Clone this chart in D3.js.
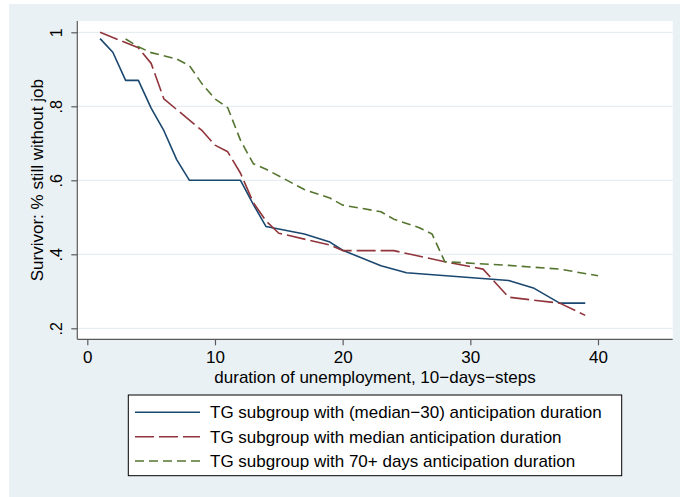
<!DOCTYPE html>
<html>
<head>
<meta charset="utf-8">
<script src="https://cdn.jsdelivr.net/npm/d3@7"></script>
<style>
  body { margin: 0; background: #ffffff; }
  svg { display: block; }
  text { font-family: Arial, "Liberation Sans", Helvetica, sans-serif; fill: #000; }
</style>
</head>
<body>
<svg id="chart" width="680" height="497"></svg>
<script>
// Kaplan-Meier style survivor curves, unemployment duration in 10-day steps
const seriesNames = [
  "TG subgroup with (median\u221230) anticipation duration",
  "TG subgroup with median anticipation duration",
  "TG subgroup with 70+ days anticipation duration"
];

const durMinus30  = [1, 2, 3, 4, 5, 6, 7, 8, 12, 13, 14, 17, 19, 20, 23, 25, 33, 35, 37, 39];
const survMinus30 = [0.983, 0.946, 0.870, 0.870, 0.795, 0.734, 0.656, 0.600, 0.600, 0.535, 0.475, 0.455, 0.433, 0.411, 0.369, 0.350, 0.329, 0.308, 0.268, 0.268];

const durMedian  = [1, 4, 5, 6, 9, 10, 11, 12, 13, 14, 15, 19, 20, 24, 28, 31, 33, 37, 39];
const survMedian = [1.000, 0.958, 0.916, 0.820, 0.734, 0.695, 0.677, 0.619, 0.540, 0.490, 0.457, 0.425, 0.410, 0.410, 0.380, 0.360, 0.284, 0.268, 0.235];

const dur70  = [3, 4, 5, 7, 8, 9, 10, 11, 12, 13, 14, 17, 19, 20, 23, 24, 26, 27, 28, 33, 37, 40];
const surv70 = [0.982, 0.961, 0.945, 0.928, 0.910, 0.860, 0.820, 0.796, 0.708, 0.645, 0.630, 0.575, 0.552, 0.533, 0.515, 0.495, 0.472, 0.455, 0.380, 0.370, 0.360, 0.342];

const xTickValues = [0, 10, 20, 30, 40];
const yTickValues = [0.2, 0.4, 0.6, 0.8, 1];
const yTickLabels = [".2", ".4", ".6", ".8", "1"];

const xTitle = "duration of unemployment, 10\u2212days\u2212steps";
const yTitle = "Survivor: % still without job";

const colors = ["#1a476f", "#90353b", "#55752f"];
const dashes = [null, "19,5", "9,5"];

const svg = d3.select("#chart");

// Stata-like graph region and plot region
const plot = { left: 77.3, right: 672.7, top: 21, bottom: 339.3 };

svg.append("rect").attr("x", 9).attr("y", 4).attr("width", 671).attr("height", 493)
  .attr("fill", "#eaf1f4");
svg.append("rect").attr("x", plot.left).attr("y", plot.top)
  .attr("width", plot.right - plot.left).attr("height", plot.bottom - plot.top)
  .attr("fill", "#ffffff");

const x = d3.scaleLinear().domain([0, 40]).range([87.3, 598]);
const y = d3.scaleLinear().domain([0.2, 1]).range([328.3, 32.3]);

// horizontal grid lines
svg.append("g").selectAll("line").data(yTickValues).join("line")
  .attr("x1", plot.left).attr("x2", plot.right)
  .attr("y1", d => y(d)).attr("y2", d => y(d))
  .attr("stroke", "#e5edf1").attr("stroke-width", 1.2);

// survivor curves
const series = [
  { dur: durMinus30, surv: survMinus30 },
  { dur: durMedian, surv: survMedian },
  { dur: dur70, surv: surv70 }
];
const line = d3.line().x(d => x(d[0])).y(d => y(d[1]));
series.forEach((s, i) => {
  const pts = s.dur.map((d, j) => [d, s.surv[j]]);
  svg.append("path").datum(pts)
    .attr("d", line)
    .attr("fill", "none")
    .attr("stroke", colors[i])
    .attr("stroke-width", 1.6)
    .attr("stroke-linejoin", "round")
    .attr("stroke-dasharray", dashes[i]);
});

// y axis
const yAxis = d3.axisLeft(y).tickValues(yTickValues)
  .tickFormat((d, i) => yTickLabels[i]).tickSize(6).tickSizeOuter(0);
const gy = svg.append("g").attr("transform", `translate(${plot.left},0)`).call(yAxis);
gy.select(".domain").attr("d", `M0,${plot.top}V${plot.bottom}`);
gy.selectAll(".domain, .tick line").attr("stroke", "#5a5a5a").attr("stroke-width", 1.2);
gy.selectAll(".tick text")
  .attr("transform", "rotate(-90)")
  .attr("x", 0).attr("y", -15.3).attr("dy", null)
  .attr("text-anchor", "middle")
  .style("font-size", "16px");

// x axis
const xAxis = d3.axisBottom(x).tickValues(xTickValues).tickSize(6).tickSizeOuter(0);
const gx = svg.append("g").attr("transform", `translate(0,${plot.bottom})`).call(xAxis);
gx.select(".domain").attr("d", `M${plot.left},0H${plot.right}`);
gx.selectAll(".domain, .tick line").attr("stroke", "#5a5a5a").attr("stroke-width", 1.2);
gx.selectAll(".tick text")
  .attr("y", 24).attr("dy", null)
  .style("font-size", "17px");
svg.selectAll(".tick text").attr("fill", "#000");

// axis titles
svg.append("text")
  .attr("x", (plot.left + plot.right) / 2).attr("y", 382.5)
  .attr("text-anchor", "middle").style("font-size", "17px")
  .text(xTitle);
svg.append("text")
  .attr("transform", `translate(42.5,${(plot.top + plot.bottom) / 2}) rotate(-90)`)
  .attr("text-anchor", "middle").style("font-size", "17px")
  .text(yTitle);

// legend
const legend = svg.append("g");
legend.append("rect")
  .attr("x", 128.3).attr("y", 395).attr("width", 493.4).attr("height", 80.7)
  .attr("fill", "#ffffff").attr("stroke", "#000").attr("stroke-width", 1);
const rowY = [412.3, 436.7, 461];
seriesNames.forEach((name, i) => {
  legend.append("line")
    .attr("x1", 135).attr("x2", 200).attr("y1", rowY[i]).attr("y2", rowY[i])
    .attr("stroke", colors[i]).attr("stroke-width", 1.6)
    .attr("stroke-dasharray", dashes[i]);
  legend.append("text")
    .attr("x", 210).attr("y", rowY[i] + 6)
    .style("font-size", "17px")
    .text(name);
});
</script>
</body>
</html>
